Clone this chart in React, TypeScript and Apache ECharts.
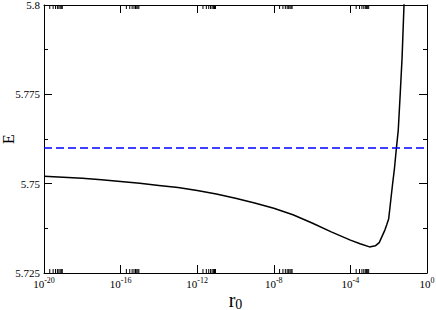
import React, { useEffect, useRef } from 'react';
import * as echarts from 'echarts';

// r0 values (log axis) and energies E
const r0 = [
  1e-20, 1e-19, 1e-18, 1e-17, 1e-16, 1e-15, 1e-14, 1e-13, 1e-12, 1e-11,
  1e-10, 1e-9, 1e-8, 1e-7, 1e-6, 1e-5, 1e-4, 3.2e-4, 1e-3, 2e-3,
  3.2e-3, 5e-3, 6.3e-3, 7.9e-3, 1e-2, 1.26e-2, 1.58e-2, 2e-2, 2.5e-2,
  3.16e-2, 4e-2, 5e-2, 6.3e-2, 7.9e-2,
];
const energy = [
  5.7521, 5.7518, 5.7515, 5.7511, 5.7506, 5.7501, 5.7495, 5.7489, 5.7481, 5.7471,
  5.7459, 5.7446, 5.7431, 5.7413, 5.739, 5.7365, 5.7342, 5.7332, 5.7323, 5.7326,
  5.7335, 5.7358, 5.737, 5.7385, 5.7402, 5.745, 5.7497, 5.7543, 5.7597,
  5.765, 5.7752, 5.7853, 5.8, 5.83,
];
const refX = [1e-20, 1];
const refE = [5.76, 5.76];
const xMin = 1e-20;
const xMax = 1;
const yMin = 5.725;
const yMax = 5.8;
const yStep = 0.025;
const xMajorExp = [-20, -16, -12, -8, -4];
const xMinorMult = [2, 3, 4, 5, 6, 7, 8, 9];

const FONT = 'Liberation Serif';

export default function App() {
  const ref = useRef<HTMLDivElement>(null);
  useEffect(() => {
    if (!ref.current) return;
    const chart = echarts.init(ref.current, null, { renderer: 'svg' });
    const xCommon = {
      type: 'log' as const,
      logBase: 10,
      min: xMin,
      max: xMax,
      interval: 4,
      splitLine: { show: false },
      axisLine: { lineStyle: { color: '#000', width: 1 } },
      axisTick: { inside: true, length: 8, lineStyle: { color: '#000', width: 1 } },
    };
    const yCommon = {
      type: 'value' as const,
      min: yMin,
      max: yMax,
      interval: yStep,
      splitLine: { show: false },
      axisLine: { show: true, lineStyle: { color: '#000', width: 1 } },
      axisTick: { inside: true, length: 8, lineStyle: { color: '#000', width: 1 } },
      minorTick: { show: true, splitNumber: 2, length: 4, lineStyle: { color: '#000', width: 1 } },
    };
    chart.setOption({
      animation: false,
      textStyle: { fontFamily: FONT },
      grid: { left: 44, right: 9, top: 5, bottom: 37, containLabel: false, outerBoundsMode: 'none' },
      xAxis: [
        {
          ...xCommon,
          position: 'bottom',
          axisLabel: {
            margin: 3,
            color: '#000',
            formatter: (v: number) => {
              const e = Math.round(Math.log10(v));
              return '{b|10}{s|' + e + '}';
            },
            rich: {
              b: { fontFamily: FONT, fontSize: 11, color: '#000' },
              s: { fontFamily: FONT, fontSize: 8, color: '#000', padding: [0, 0, 7, 0] },
            },
          },
          name: '{r|r}{s|0}',
          nameLocation: 'middle',
          nameGap: 16,
          nameMoveOverlap: false,
          nameTextStyle: {
            rich: {
              r: { fontFamily: FONT, fontSize: 20, color: '#000' },
              s: { fontFamily: FONT, fontSize: 14, color: '#000', padding: [8, 0, 0, 0] },
            },
          },
        },
        { ...xCommon, position: 'top', axisLabel: { show: false } },
      ],
      yAxis: [
        {
          ...yCommon,
          position: 'left',
          axisLabel: {
            color: '#000',
            fontSize: 11,
            fontFamily: FONT,
            margin: 4,
            formatter: (v: number) => String(parseFloat(v.toFixed(3))),
          },
          name: 'E',
          nameLocation: 'middle',
          nameGap: 28,
          nameRotate: 90,
          nameMoveOverlap: false,
          nameTextStyle: { fontFamily: FONT, fontSize: 16, color: '#000' },
        },
        { ...yCommon, position: 'right', axisLabel: { show: false } },
      ],
      series: [
        {
          type: 'line',
          data: r0.map((x, i) => [x, energy[i]]),
          showSymbol: false,
          clip: true,
          lineStyle: { color: '#000', width: 1.5 },
          xAxisIndex: 0,
          yAxisIndex: 0,
        },
        {
          type: 'line',
          data: refX.map((x, i) => [x, refE[i]]),
          showSymbol: false,
          lineStyle: { color: '#0000ff', width: 1.5, type: [8, 4] },
          xAxisIndex: 0,
          yAxisIndex: 0,
        },
      ],
    });
    // xmgrace-style minor ticks (2..9 x 10^n) right after each major tick
    const yb = chart.convertToPixel({ yAxisIndex: 0 }, yMin) as number;
    const yt = chart.convertToPixel({ yAxisIndex: 0 }, yMax) as number;
    const g: any[] = [];
    xMajorExp.forEach((e) => {
      xMinorMult.forEach((m) => {
        const x = chart.convertToPixel({ xAxisIndex: 0 }, m * Math.pow(10, e)) as number;
        g.push({ type: 'line', shape: { x1: x, y1: yb, x2: x, y2: yb - 4 }, style: { stroke: '#000', lineWidth: 1 } });
        g.push({ type: 'line', shape: { x1: x, y1: yt, x2: x, y2: yt + 4 }, style: { stroke: '#000', lineWidth: 1 } });
      });
    });
    chart.setOption({ graphic: g });
    return () => chart.dispose();
  }, []);
  return <div ref={ref} style={{ width: 436, height: 310, position: 'absolute', left: 0, top: 0 }} />;
}
